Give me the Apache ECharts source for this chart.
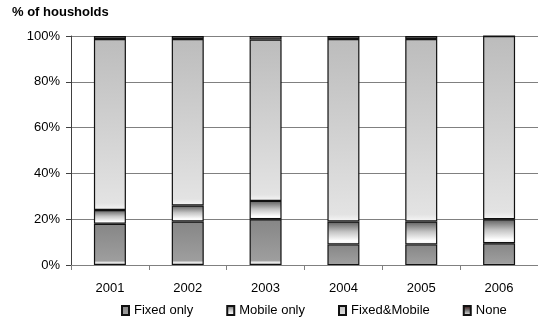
<!DOCTYPE html>
<html>
<head>
<meta charset="utf-8">
<script src="https://cdn.jsdelivr.net/npm/echarts@6/dist/echarts.min.js"></script>
<style>
  html, body { margin: 0; padding: 0; background: #fff; }
  #chart { width: 538px; height: 325px; }
</style>
</head>
<body>
<div id="chart"></div>
<script>
// Household telephony access, share of households per year
const years = ['2001', '2002', '2003', '2004', '2005', '2006'];
const fixedOnly = [18, 19, 20, 9, 9, 9.5];
const mobileOnly = [6, 7, 8, 10, 10, 10.5];
const fixedMobile = [74.7, 72.7, 70.5, 79.7, 79.7, 80];
const noneAccess = [1.3, 1.3, 1.5, 1.3, 1.3, 0];
const yTicks = [0, 20, 40, 60, 80, 100];

const FONT = '"Liberation Sans", Arial, sans-serif';

function vGrad(stops) {
  return {
    type: 'linear', x: 0, y: 0, x2: 0, y2: 1,
    colorStops: stops.map(([offset, color]) => ({ offset, color }))
  };
}

const styles = {
  'Fixed only': vGrad([[0, '#868686'], [0.9, '#9e9e9e'], [0.94, '#e6e6e6'], [1, '#ffffff']]),
  'Mobile only': vGrad([[0, '#5e5e5e'], [0.45, '#c4c4c4'], [0.85, '#ffffff'], [1, '#eeeeee']]),
  'Fixed&Mobile': vGrad([[0, '#bcbcbc'], [0.96, '#e3e3e3'], [1, '#f6f6f6']]),
  'None': vGrad([[0, '#2e0000'], [0.5, '#7a7a7a'], [1, '#ffffff']])
};

function barSeries(name, data) {
  return {
    name,
    type: 'bar',
    stack: 'households',
    data,
    barWidth: 32,
    itemStyle: {
      color: styles[name],
      borderColor: '#111',
      borderWidth: 1.2
    },
    emphasis: { disabled: true }
  };
}

const chart = echarts.init(document.getElementById('chart'), null, { renderer: 'canvas' });
chart.setOption({
  animation: false,
  title: {
    text: '% of housholds',
    left: 12,
    top: 6,
    padding: 0,
    textStyle: { fontFamily: FONT, fontSize: 13, fontWeight: 'bold', color: '#000' }
  },
  grid: { left: 71, top: 36, bottom: 60, right: -7 },
  legend: {
    left: 121,
    top: 304,
    padding: 0,
    itemWidth: 7,
    itemHeight: 9,
    itemGap: 33,
    icon: 'rect',
    textStyle: { fontFamily: FONT, fontSize: 13, color: '#000' },
    data: ['Fixed only', 'Mobile only', 'Fixed&Mobile', 'None']
  },
  xAxis: {
    type: 'category',
    data: years,
    axisLine: { lineStyle: { color: '#808080', width: 1 } },
    axisTick: { show: true, length: 5, lineStyle: { color: '#808080' } },
    axisLabel: { fontFamily: FONT, fontSize: 13, color: '#000', margin: 17 }
  },
  yAxis: {
    type: 'value',
    min: yTicks[0],
    max: yTicks[yTicks.length - 1],
    interval: yTicks[1] - yTicks[0],
    axisLine: { show: true, lineStyle: { color: '#404040', width: 1 } },
    axisTick: { show: true, length: 5, lineStyle: { color: '#404040' } },
    axisLabel: { fontFamily: FONT, fontSize: 13, color: '#000', margin: 11, formatter: '{value}%' },
    splitLine: { show: true, lineStyle: { color: '#808080', width: 1 } }
  },
  series: [
    barSeries('Fixed only', fixedOnly),
    barSeries('Mobile only', mobileOnly),
    barSeries('Fixed&Mobile', fixedMobile),
    barSeries('None', noneAccess)
  ]
});
</script>
</body>
</html>
